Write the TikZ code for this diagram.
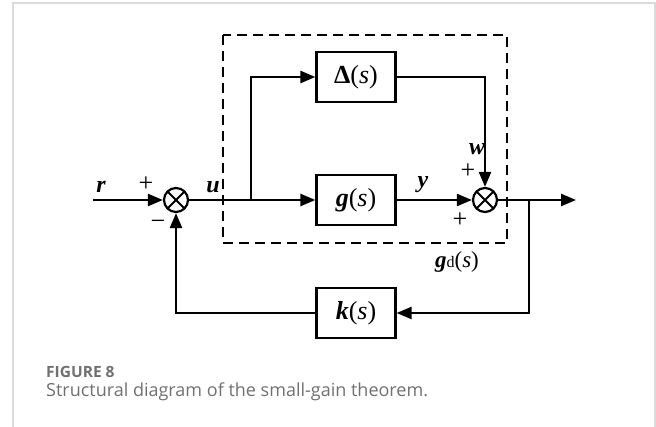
\documentclass[tikz,border=0pt]{standalone}
\usepackage{fontspec}
\setmainfont{Liberation Serif}
\newfontfamily\capfont{Open Sans}
\usetikzlibrary{arrows.meta, positioning}
\definecolor{framegray}{RGB}{218,218,218}
\definecolor{capgray}{RGB}{112,112,112}

\begin{document}
\begin{tikzpicture}[x=1pt, y=-1pt, >={Triangle[length=15pt,width=12pt]}, line width=2.4pt,
  block/.style={draw, line width=2.2pt, minimum width=79pt, minimum height=50pt, inner sep=0pt, font=\fontsize{26}{26}\selectfont},
  sumnode/.style={circle, draw, line width=2.2pt, minimum size=24pt, inner sep=0pt,
    path picture={\draw[line width=2pt] (path picture bounding box.north west) -- (path picture bounding box.south east)
      (path picture bounding box.north east) -- (path picture bounding box.south west);}},
  sig/.style={font=\fontsize{24}{24}\selectfont\bfseries\itshape},
  sgn/.style={font=\fontsize{26}{26}\selectfont},
  dashbox/.style={line width=1.2pt, dash pattern=on 10pt off 6pt}]
  \useasboundingbox (0,0) rectangle (656,427);
  % page frame
  \draw[framegray, line width=1.5pt] (13,427) -- (13,3) -- (655,3) -- (655,427);

  % blocks and summing points
  \node[sumnode] (sum1) at (176,200) {};
  \node[block] (delta) at (356,77) {{\bfseries Δ}(\textit{s})};
  \node[block] (g) at (356,200) {\textbf{\textit{g}}(\textit{s})};
  \node[sumnode] (sum2) at (485,200) {};
  \node[block] (k) at (356,313) {\textbf{\textit{k}}(\textit{s})};
  \coordinate (rin) at (93,200);
  \coordinate (jn) at (251,200);
  \coordinate (br) at (529,200);
  \coordinate (out) at (576,200);

  % uncertain plant
  \draw[dashbox] (223,35) rectangle (507,243);
  \node[font=\fontsize{23}{23}\selectfont] (gdlab) at (457,262) {\textbf{\textit{g}}{\fontsize{16}{16}\selectfont d}(\textit{s})};

  % signals
  \draw[->] (rin) -- (sum1);
  \draw (sum1) -- (jn);
  \draw[->] (jn) -- (g);
  \draw[->] (jn) |- (delta);
  \draw[->] (g) -- (sum2);
  \draw[->] (delta) -| (sum2);
  \draw[->] (sum2) -- (out);
  \draw[->] (br) |- (k);
  \draw[->] (k) -| (sum1);

  % labels
  \node[sig] (rlab) at (101,187) {r};
  \node[sig] (ulab) at (213,187) {u};
  \node[sig] (ylab) at (423,185) {y};
  \node[sig] (wlab) at (477,149) {w};
  \node[sgn] (p1) at (146,184) {+};
  \node[sgn] (m1) at (158,225) {−};
  \node[sgn] (p2) at (468,171) {+};
  \node[sgn] (p3) at (460,220) {+};

  % caption
  \node[anchor=west, inner sep=0pt, text=capgray, font=\capfont\bfseries\fontsize{15.5}{16}\selectfont] (fig) at (45,372) {FIGURE 8};
  \node[anchor=west, inner sep=0pt, text=capgray, font=\capfont\fontsize{18}{19}\selectfont] (cap) at (45,392) {Structural diagram of the small-gain theorem.};
\end{tikzpicture}
\end{document}
